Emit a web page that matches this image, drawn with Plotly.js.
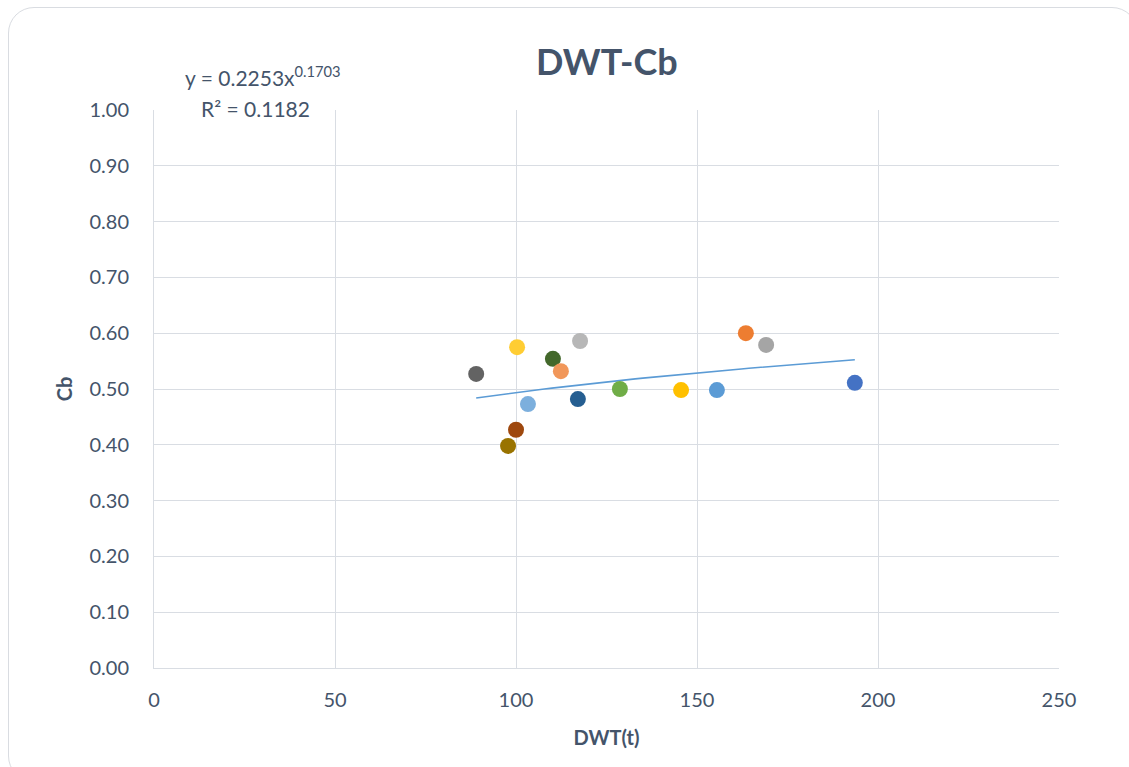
<!DOCTYPE html>
<html><head><meta charset="utf-8">
<script src="https://cdn.plot.ly/plotly-3.0.1.min.js"></script>
<style>
html,body{margin:0;padding:0;background:#fff;overflow:hidden;}
#frame{position:absolute;left:8px;top:7px;width:1130px;height:775px;border:1.5px solid #D9DCE1;border-radius:26px;box-sizing:border-box;}
#chart{position:absolute;left:0;top:0;width:1129px;height:767px;}
</style></head>
<body>
<div id="frame"></div>
<div id="chart"></div>
<script>
// Data
const dwt = [193.6, 163.5, 169.1, 145.6, 155.5, 128.7, 117.1, 100.0, 89.0, 97.8, 110.2, 112.4, 117.7, 100.3, 103.3];
const cb  = [0.511, 0.600, 0.579, 0.498, 0.498, 0.500, 0.482, 0.427, 0.527, 0.398, 0.554, 0.532, 0.586, 0.575, 0.473];
const pointColors = ['#4472C4','#ED7D31','#A5A5A5','#FFC000','#5B9BD5','#70AD47','#255E91','#9E480E','#636363','#997300','#43682B','#F1975A','#B7B7B7','#FFCD33','#7CAFDD'];
// Power trendline reported in chart: y = a * x^b
const trendA = 0.2253;
const trendB = 0.1703;
const trendR2 = 0.1182;

const xMin = Math.min(...dwt), xMax = Math.max(...dwt);
const tx = [], ty = [];
for (let i = 0; i <= 50; i++) {
  const x = xMin + (xMax - xMin) * i / 50;
  tx.push(x); ty.push(trendA * Math.pow(x, trendB));
}

const fontFam = 'Lato, "Noto Sans", sans-serif';
const txtColor = '#44546A';
const gridColor = '#D9DDE3';

const traces = [
  {x: tx, y: ty, mode: 'lines', line: {color: '#5B9BD5', width: 1.6}, hoverinfo: 'skip', showlegend: false},
  {x: dwt, y: cb, mode: 'markers', showlegend: false,
   marker: {size: 16, color: pointColors, line: {width: 0}}}
];

const layout = {
  width: 1129, height: 767,
  paper_bgcolor: 'rgba(0,0,0,0)', plot_bgcolor: 'rgba(0,0,0,0)',
  margin: {l: 154, r: 70, t: 110, b: 99},
  font: {family: fontFam, color: '#595959', size: 20},
  title: {text: '<b>DWT-Cb</b>', x: 0.5375, xanchor: 'center', y: 0.919, yanchor: 'middle',
          font: {family: fontFam, size: 36, color: txtColor}},
  xaxis: {range: [0, 250], dtick: 50, tick0: 0, showgrid: true, gridcolor: gridColor, gridwidth: 1,
          showline: true, linecolor: gridColor, linewidth: 1, zeroline: false, ticks: '',
          ticklabelstandoff: 14, tickfont: {size: 20, color: txtColor, family: fontFam},
          title: {text: '<b>DWT(t)</b>', font: {size: 20, color: txtColor, family: fontFam}, standoff: 20}},
  yaxis: {range: [0, 1], dtick: 0.1, tick0: 0, tickformat: '.2f', showgrid: true, gridcolor: gridColor, gridwidth: 1,
          showline: true, linecolor: gridColor, linewidth: 1, zeroline: false, ticks: '',
          ticklabelstandoff: 20, tickfont: {size: 20, color: txtColor, family: fontFam},
          title: {text: '<b>Cb</b>', font: {size: 20, color: txtColor, family: fontFam}, standoff: 11}},
  annotations: [
    {xref: 'paper', yref: 'paper', x: (263 - 154) / 905, y: (668 - 76) / 558, xanchor: 'center', yanchor: 'middle',
     text: 'y = ' + trendA.toFixed(4) + 'x<sup>' + trendB.toFixed(4) + '</sup>', showarrow: false,
     font: {size: 21, color: txtColor, family: fontFam}},
    {xref: 'paper', yref: 'paper', x: (255 - 154) / 905, y: (668 - 108) / 558, xanchor: 'center', yanchor: 'middle',
     text: 'R² = ' + trendR2.toFixed(4), showarrow: false,
     font: {size: 21, color: txtColor, family: fontFam}}
  ]
};

Plotly.newPlot('chart', traces, layout, {displayModeBar: false, staticPlot: true});
</script>
</body></html>
